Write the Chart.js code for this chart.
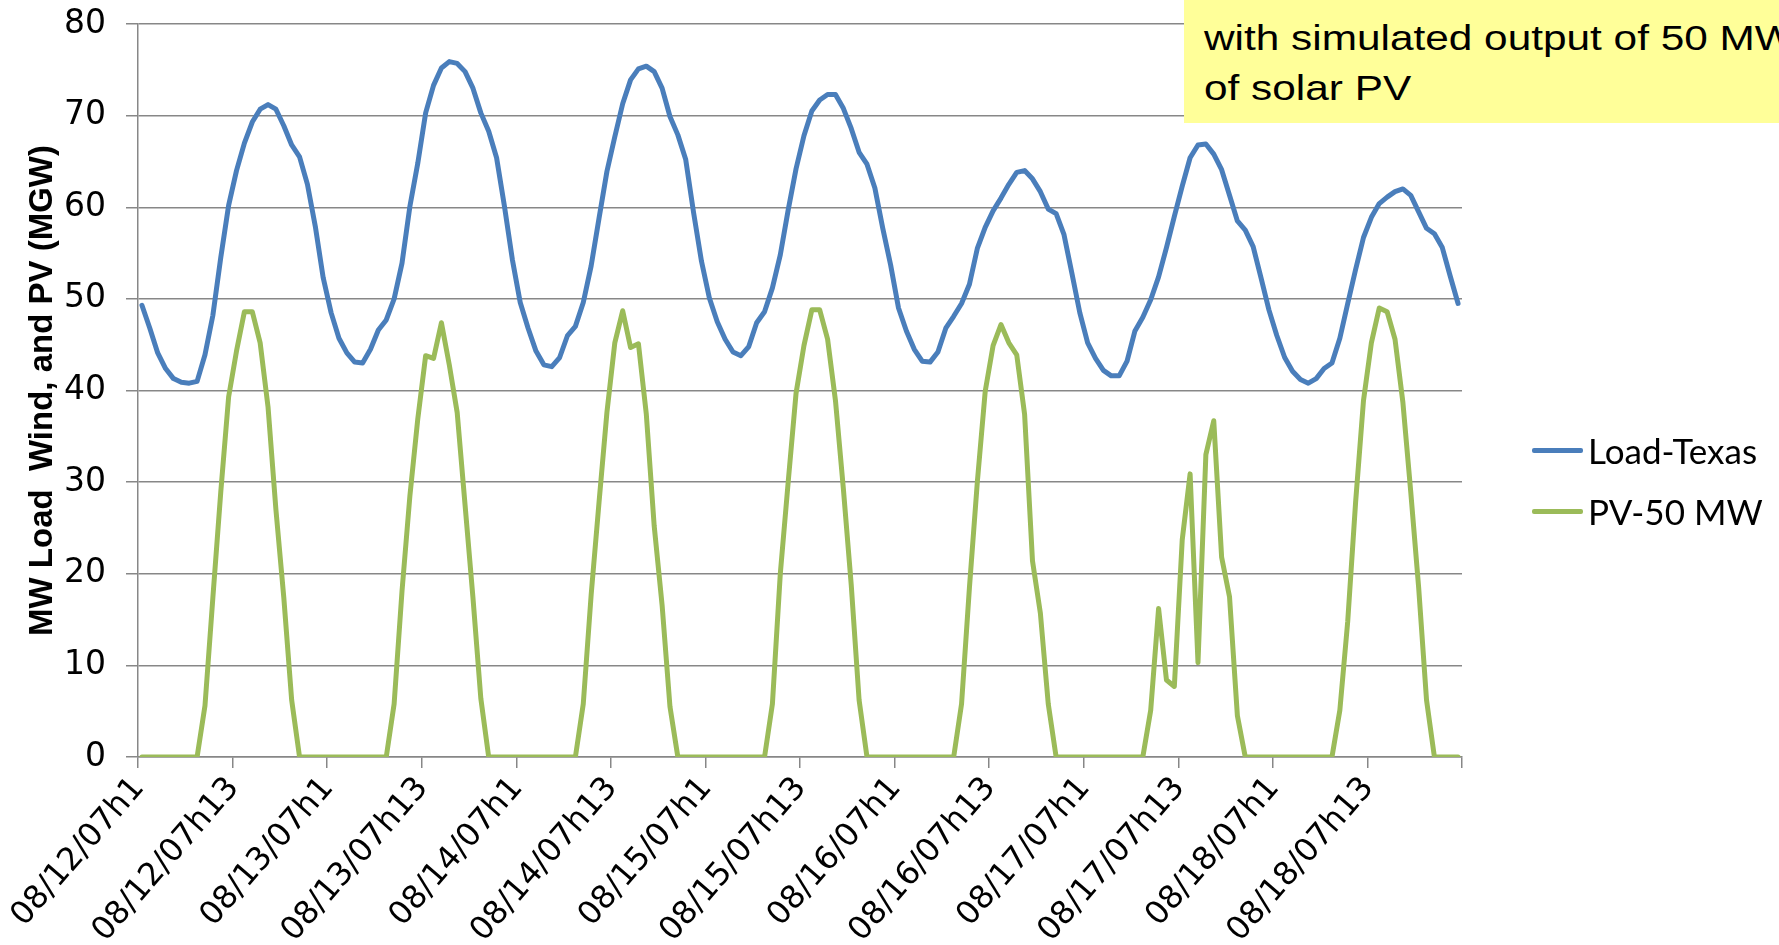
<!DOCTYPE html>
<html>
<head>
<meta charset="utf-8">
<script src="https://cdn.jsdelivr.net/npm/chart.js@4.4.0/dist/chart.umd.min.js"></script>
<style>
  html, body { margin: 0; padding: 0; background: #fff; overflow: hidden; }
  #wrap { position: relative; width: 1779px; height: 945px; overflow: hidden; }
  #note {
    position: absolute; left: 1184px; top: 0; width: 700px; height: 123px;
    background: #ffff99; overflow: hidden;
  }
  #note div {
    position: absolute; left: 20px; top: -37px;
    font-family: 'Liberation Sans', Arial, sans-serif; font-size: 35px;
    line-height: 50px; color: #000; white-space: nowrap;
    transform: scaleX(1.21); transform-origin: 0 0;
  }
  #legend { position: absolute; left: 1532px; top: 0; }
  .item { position: absolute; left: 0; height: 40px; display: flex; align-items: center; white-space: nowrap;
          font-family: Lato, sans-serif; font-size: 35px; color: #000; }
  .item span.swatch { display: inline-block; width: 51px; height: 5px; border-radius: 2px; margin-right: 5px; }
</style>
</head>
<body>
<div id="wrap">
  <canvas id="myChart" width="1779" height="945"></canvas>
  <div id="note"><div>&nbsp;<br>with simulated output of 50 MW<br>of solar PV</div></div>
  <div id="legend"></div>
</div>
<script>
// Category axis: hourly, 7 days
const days = ['08/12/07', '08/13/07', '08/14/07', '08/15/07', '08/16/07', '08/17/07', '08/18/07'];
const hoursPerDay = 24;
const labelEvery = 12; // tick labels at h1 and h13

// Hourly load, Texas (MW scaled)
const loadTexas = [
  49.3, 46.8, 44.1, 42.4, 41.3, 40.9, 40.8, 41.0, 43.9, 48.2, 54.5, 60.2, 64.0, 67.0, 69.3, 70.7, 71.2, 70.7, 68.9, 66.8, 65.5, 62.5, 57.9, 52.3,
  48.5, 45.7, 44.1, 43.1, 43.0, 44.5, 46.6, 47.7, 50.0, 53.9, 60.1, 64.8, 70.3, 73.3, 75.2, 75.9, 75.7, 74.8, 73.0, 70.3, 68.3, 65.4, 60.1, 54.3,
  49.6, 46.8, 44.3, 42.8, 42.6, 43.6, 46.0, 47.0, 49.6, 53.6, 58.8, 63.9, 67.7, 71.3, 73.9, 75.1, 75.4, 74.8, 73.0, 69.9, 67.9, 65.2, 59.4, 54.1,
  50.1, 47.5, 45.6, 44.2, 43.8, 44.8, 47.4, 48.6, 51.2, 54.8, 59.7, 64.2, 67.8, 70.5, 71.7, 72.3, 72.3, 70.8, 68.6, 66.0, 64.7, 62.1, 57.7, 53.7,
  49.0, 46.5, 44.5, 43.2, 43.1, 44.2, 46.8, 48.1, 49.5, 51.6, 55.5, 57.8, 59.6, 61.0, 62.5, 63.8, 64.0, 63.1, 61.7, 59.8, 59.3, 57.0, 52.8, 48.5,
  45.2, 43.5, 42.2, 41.6, 41.6, 43.2, 46.5, 48.0, 49.9, 52.4, 55.6, 59.0, 62.3, 65.4, 66.8, 66.9, 65.8, 64.1, 61.3, 58.5, 57.5, 55.7, 52.3, 48.8,
  46.0, 43.6, 42.1, 41.2, 40.8, 41.3, 42.4, 43.0, 45.7, 49.5, 53.2, 56.7, 58.9, 60.4, 61.1, 61.7, 62.0, 61.3, 59.5, 57.7, 57.1, 55.6, 52.5, 49.5
];

// Simulated output of 50 MW of solar PV
const pv50 = [
  0, 0, 0, 0, 0, 0, 0, 0, 5.6, 17.4, 28.9, 39.3, 44.3, 48.6, 48.6, 45.2, 38.2, 27.0, 17.4, 6.2, 0, 0, 0, 0,
  0, 0, 0, 0, 0, 0, 0, 0, 5.8, 18.1, 28.5, 36.9, 43.8, 43.5, 47.4, 42.8, 37.6, 27.5, 17.4, 6.4, 0, 0, 0, 0,
  0, 0, 0, 0, 0, 0, 0, 0, 5.8, 17.7, 27.8, 37.6, 45.2, 48.7, 44.7, 45.1, 37.4, 25.2, 16.6, 5.5, 0, 0, 0, 0,
  0, 0, 0, 0, 0, 0, 0, 0, 5.8, 20.0, 30.0, 39.7, 44.9, 48.8, 48.8, 45.6, 38.9, 29.3, 18.8, 6.2, 0, 0, 0, 0,
  0, 0, 0, 0, 0, 0, 0, 0, 5.8, 18.5, 30.0, 39.9, 44.9, 47.2, 45.2, 43.9, 37.4, 21.4, 15.7, 5.8, 0, 0, 0, 0,
  0, 0, 0, 0, 0, 0, 0, 0, 5.1, 16.2, 8.4, 7.7, 23.7, 30.9, 10.3, 33.0, 36.7, 21.8, 17.5, 4.5, 0, 0, 0, 0,
  0, 0, 0, 0, 0, 0, 0, 0, 5.1, 14.8, 27.8, 38.9, 45.2, 49.0, 48.6, 45.6, 38.7, 28.9, 18.5, 6.2, 0, 0, 0, 0
];

// Build hourly category labels like 08/12/07h1
const labels = [];
days.forEach(d => {
    for (let h = 1; h <= hoursPerDay; h++) labels.push(d + 'h' + h);
});

const gridGray = '#878787';

const ctx = document.getElementById('myChart').getContext('2d');
const chart = new Chart(ctx, {
    type: 'line',
    data: {
        labels: labels,
        datasets: [{
            label: 'Load-Texas',
            data: loadTexas,
            borderColor: '#4a7ebb',
            borderWidth: 5,
            pointRadius: 0,
            borderJoinStyle: 'round',
            borderCapStyle: 'round',
            fill: false
        }, {
            label: 'PV-50 MW',
            data: pv50,
            borderColor: '#9bbb59',
            borderWidth: 5,
            pointRadius: 0,
            borderJoinStyle: 'round',
            borderCapStyle: 'round',
            fill: false
        }]
    },
    options: {
        responsive: false,
        animation: false,
        layout: { padding: { top: 24, right: 317, bottom: 0, left: 0 } },
        plugins: {
            legend: { display: false },
            tooltip: { enabled: false }
        },
        scales: {
            x: {
                offset: true,
                grid: {
                    offset: true,
                    drawOnChartArea: false,
                    tickLength: 11,
                    lineWidth: 1.5,
                    tickColor: c => (c.index === undefined || c.index % labelEvery === 0) ? gridGray : 'rgba(0,0,0,0)'
                },
                border: { display: true, color: gridGray, width: 1.5 },
                ticks: {
                    autoSkip: false,
                    minRotation: 49,
                    maxRotation: 49,
                    padding: 2,
                    labelOffset: -3,
                    color: '#000',
                    font: { family: 'DejaVu Sans', size: 32 },
                    callback: function (val, index) {
                        return index % labelEvery === 0 ? this.getLabelForValue(val) : '';
                    }
                },
                afterFit: s => { s.height = 188; }
            },
            y: {
                min: 0,
                max: 80,
                ticks: {
                    stepSize: 10,
                    padding: 20,
                    color: '#000',
                    font: { family: 'DejaVu Sans', size: 33 }
                },
                grid: { color: gridGray, lineWidth: 1.5, tickLength: 12 },
                border: { display: true, color: gridGray, width: 1.5 },
                title: {
                    display: true,
                    text: 'MW Load  Wind, and PV (MGW)',
                    color: '#000',
                    padding: { top: 23, bottom: 0 },
                    font: { family: 'Liberation Sans', size: 33, weight: 'bold' }
                },
                afterFit: s => {
                    s.width = 138;
                    s.paddingTop = 0; // let layout padding set the top edge
                }
            }
        }
    }
});

// HTML legend built from the chart's datasets
const legendBox = document.getElementById('legend');
const legendTops = [430, 491];
chart.data.datasets.forEach((ds, i) => {
    const row = document.createElement('div');
    row.className = 'item';
    row.style.top = legendTops[i] + 'px';
    const sw = document.createElement('span');
    sw.className = 'swatch';
    sw.style.background = ds.borderColor;
    row.appendChild(sw);
    row.appendChild(document.createTextNode(ds.label));
    legendBox.appendChild(row);
});
</script>
</body>
</html>
